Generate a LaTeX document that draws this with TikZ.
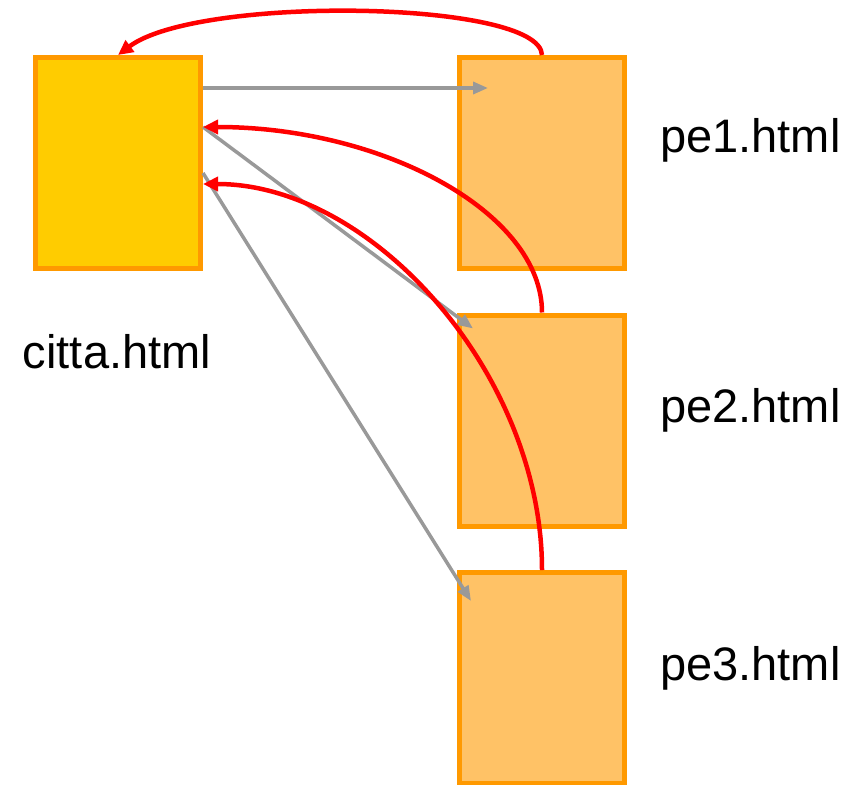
\documentclass[tikz,border=0pt]{standalone}
\usepackage{fontspec}
\setmainfont{Liberation Sans}
\usetikzlibrary{arrows.meta}
\definecolor{boxline}{HTML}{FF9900}
\definecolor{cittafill}{HTML}{FFCC00}
\definecolor{pefill}{HTML}{FFC266}
\definecolor{grayline}{HTML}{999999}
\definecolor{redline}{HTML}{FF0000}
\tikzset{
  page/.style={draw=boxline, line width=5pt, minimum width=165pt, minimum height=211pt, inner sep=0pt},
  lbl/.style={font=\fontsize{47}{56}\selectfont, inner sep=0pt},
  grayarrow/.style={draw=grayline, line width=3.5pt, -{Triangle[length=15pt,width=12pt]}},
  redarrow/.style={draw=redline, line width=4.5pt, -{Triangle[length=15pt,width=14pt]}}
}
\begin{document}
\begin{tikzpicture}[x=1pt,y=-1pt]
\useasboundingbox (0,0) rectangle (858,784);
\node[page, fill=cittafill] (citta) at (118,163) {};
\node[page, fill=pefill] (pe1) at (542,163) {};
\node[page, fill=pefill] (pe2) at (542,420.5) {};
\node[page, fill=pefill] (pe3) at (542,678) {};
\node[lbl] (lcitta) at (117,352) {citta.html};
\node[lbl, anchor=west] (lpe1) at (660,140) {pe1.html};
\node[lbl, anchor=west] (lpe2) at (660,410) {pe2.html};
\node[lbl, anchor=west] (lpe3) at (660,668) {pe3.html};
% gray links
\draw[grayarrow] ([yshift=-33pt]citta.north east) -- ([xshift=31pt,yshift=-33pt]pe1.north west);
\draw[grayarrow] ([yshift=-72pt]citta.north east) -- ([xshift=16pt,yshift=-16pt]pe2.north west);
\draw[grayarrow] ([yshift=-118pt]citta.north east) -- ([xshift=14pt,yshift=-31pt]pe3.north west);
% red back links
\draw[redarrow] (pe1.north) .. controls +(-2,-55) and +(80,-60) .. (citta.north);
\draw[redarrow] (pe2.north) .. controls +(0,-100) and +(180,0) .. ([yshift=-72pt]citta.north east);
\draw[redarrow] (pe3.north) .. controls +(0,-195) and +(170,0) .. ([yshift=-129pt]citta.north east);
\end{tikzpicture}
\end{document}
